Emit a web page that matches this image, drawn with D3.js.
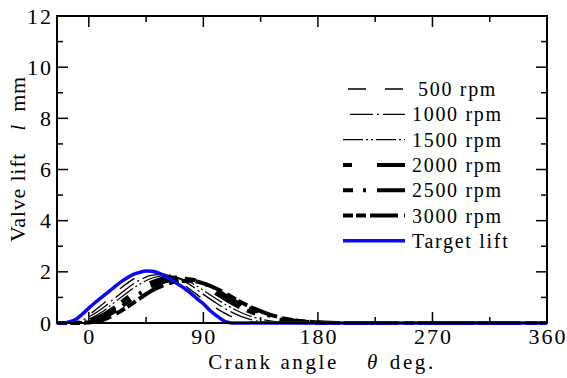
<!DOCTYPE html>
<html><head><meta charset="utf-8">
<script src="https://cdn.jsdelivr.net/npm/d3@7"></script>
<style>
html,body{margin:0;padding:0;background:#fff;}
svg text{font-family:"Liberation Serif","Times New Roman",Times,serif;fill:#000;}
</style></head>
<body><svg id="c" width="567" height="378"></svg>
<script>
// ---- data ----
const angles = [-25,-20,-15,-10,-5,0,10,20,30,40,50,60,70,80,90,100,110,120,130,140,150,160,170,180,190,200,360];
const rpm500  = [0,0,0.02,0.08,0.18,0.32,0.70,1.15,1.55,1.85,1.97,1.90,1.65,1.30,0.92,0.58,0.30,0.12,0.03,0,0,0,0,0,0,0,0];
const rpm1000 = [0,0,0.01,0.05,0.12,0.24,0.55,0.95,1.35,1.68,1.87,1.90,1.75,1.48,1.12,0.78,0.48,0.25,0.10,0.03,0,0,0,0,0,0,0];
const rpm1500 = [0,0,0,0.02,0.07,0.15,0.42,0.80,1.18,1.52,1.76,1.85,1.78,1.58,1.28,0.95,0.65,0.40,0.22,0.10,0.04,0,0,0,0,0,0];
const rpm2000 = [0,0,0,0,0.03,0.08,0.28,0.60,0.98,1.33,1.60,1.75,1.78,1.68,1.45,1.15,0.85,0.58,0.38,0.24,0.13,0.06,0.02,0,0,0,0];
const rpm2500 = [0,0,0,0,0.01,0.04,0.18,0.45,0.80,1.15,1.45,1.63,1.72,1.70,1.55,1.30,1.00,0.72,0.50,0.32,0.19,0.10,0.05,0.02,0,0,0];
const rpm3000 = [0,0,0,0,0,0.02,0.10,0.32,0.62,0.96,1.28,1.50,1.63,1.65,1.55,1.35,1.08,0.80,0.56,0.37,0.22,0.12,0.06,0.03,0.01,0,0];
const targetAngles = [-25,-20,-15,-10,-5,0,5,10,15,20,25,30,35,40,45,50,55,60,65,70,75,80,85,90,95,100,105,110,112,360];
const targetLift   = [0,0,0.05,0.15,0.35,0.58,0.80,1.00,1.20,1.40,1.60,1.76,1.90,1.98,2.03,2.02,1.95,1.83,1.68,1.52,1.36,1.17,0.95,0.75,0.50,0.30,0.12,0.02,0,0];
const seriesNames = ["500 rpm","1000 rpm","1500 rpm","2000 rpm","2500 rpm","3000 rpm","Target lift"];
const xTicks = [0,90,180,270,360];
const yTicks = [0,2,4,6,8,10,12];

// ---- styles ----
const FONT = "'Liberation Serif','Times New Roman',Times,serif";
const styles = [
  {w:1.3, dash:"18,19", color:"#000", lx:348},
  {w:1.3, dash:"23,4,2,4", color:"#000", lx:350},
  {w:1.2, dash:"20,3,2,3,2,3", color:"#000", lx:343},
  {w:4, dash:"9,25,28,8", color:"#000", lx:343},
  {w:4, dash:"10,10,3,11,28,8", color:"#000", lx:343},
  {w:4, dash:"10,3,10,4,28,6", color:"#000", lx:343},
  {w:3.5, dash:null, color:"#0a0af0", lx:343}
];

const svg = d3.select("#c");
const L=57, R=547, T=16, B=323;
const x = d3.scaleLinear().domain([-25,360]).range([L,R]);
const y = d3.scaleLinear().domain([0,12]).range([B,T]);

const series = [rpm500,rpm1000,rpm1500,rpm2000,rpm2500,rpm3000].map(v=>angles.map((a,i)=>[a,v[i]]));
series.push(targetAngles.map((a,i)=>[a,targetLift[i]]));

const line = d3.line().x(d=>x(d[0])).y(d=>y(d[1])).curve(d3.curveMonotoneX);

svg.append("clipPath").attr("id","pc").append("rect")
  .attr("x",L).attr("y",T).attr("width",R-L).attr("height",B-T+3);

const g = svg.append("g").attr("clip-path","url(#pc)");
series.forEach((s,i)=>{
  g.append("path").datum(s).attr("d",line)
   .attr("fill","none").attr("stroke",styles[i].color)
   .attr("stroke-width",styles[i].w)
   .attr("stroke-dasharray",styles[i].dash)
   .attr("stroke-linejoin","round");
});

// frame
svg.append("rect").attr("x",L).attr("y",T).attr("width",R-L).attr("height",B-T)
  .attr("fill","none").attr("stroke","#000").attr("stroke-width",2);

// ticks (inside)
const ax = svg.append("g");
function tick(x1,y1,x2,y2){ax.append("line").attr("x1",x1).attr("y1",y1).attr("x2",x2).attr("y2",y2).attr("stroke","#000").attr("stroke-width",1.5);}
const xMinor = d3.range(45,360,90);
xTicks.forEach(t=>{ tick(x(t),B,x(t),B-11); tick(x(t),T,x(t),T+11); });
xMinor.forEach(t=>{ tick(x(t),B,x(t),B-6); tick(x(t),T,x(t),T+6); });
const yMinor = d3.range(1,12,2);
yTicks.forEach(t=>{ tick(L,y(t),L+11,y(t)); tick(R,y(t),R-11,y(t)); });
yMinor.forEach(t=>{ tick(L,y(t),L+6,y(t)); tick(R,y(t),R-6,y(t)); });

// tick labels
xTicks.forEach(t=>{
  ax.append("text").attr("x",x(t)+1).attr("y",344).attr("text-anchor","middle")
    .attr("font-family",FONT).attr("font-size",22).attr("letter-spacing",2).text(t);
});
yTicks.forEach(t=>{
  ax.append("text").attr("x",53).attr("y",y(t)+7.5).attr("text-anchor","end")
    .attr("font-family",FONT).attr("font-size",22).attr("letter-spacing",2).text(t);
});

// axis titles
const xt = svg.append("text").attr("x",322).attr("y",369).attr("text-anchor","middle")
  .attr("font-family",FONT).attr("font-size",21).attr("letter-spacing",2.6);
xt.append("tspan").text("Crank angle");
xt.append("tspan").attr("dx",28).attr("font-style","italic").text("θ");
xt.append("tspan").attr("dx",10).text("deg.");

const yt = svg.append("text").attr("transform","translate(25,159) rotate(-90)").attr("text-anchor","middle")
  .attr("font-family",FONT).attr("font-size",22).attr("letter-spacing",0.8);
yt.append("tspan").text("Valve lift");
yt.append("tspan").attr("dx",22).attr("font-style","italic").text("l");
yt.append("tspan").attr("dx",12).text("mm");

// legend
const lg = svg.append("g");
seriesNames.forEach((n,i)=>{
  const yy = 89 + i*25.3;
  lg.append("line").attr("x1",styles[i].lx).attr("x2",405).attr("y1",yy).attr("y2",yy)
    .attr("stroke",styles[i].color).attr("stroke-width",styles[i].w)
    .attr("stroke-dasharray",styles[i].dash);
  lg.append("text").attr("x", i===0 ? 418 : 412).attr("y",yy+7)
    .attr("font-family",FONT).attr("font-size",20).attr("letter-spacing",1.7).text(n);
});
</script></body></html>
